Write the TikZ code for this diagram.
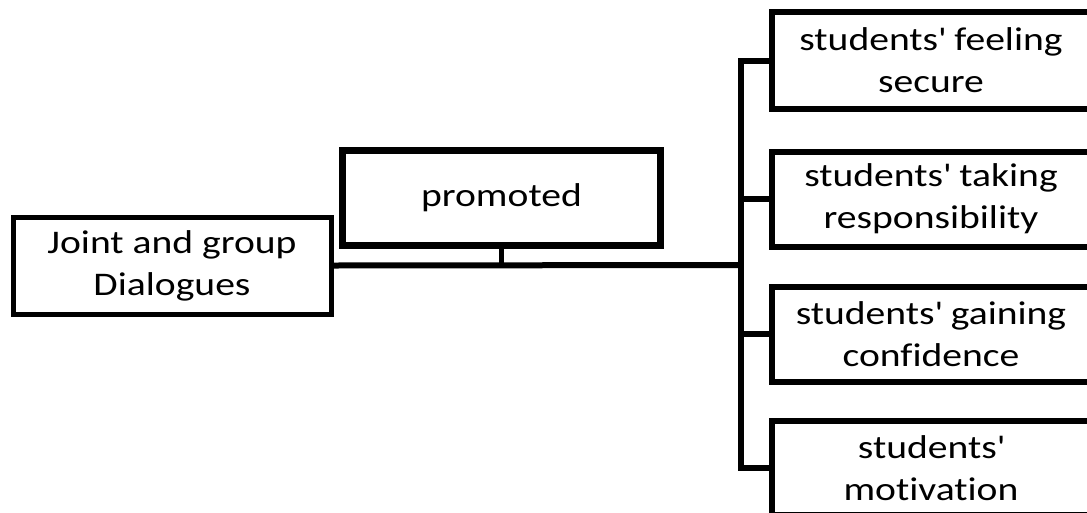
\documentclass[tikz,border=0pt]{standalone}
\usepackage{fontspec}
\setmainfont{Carlito}[FakeStretch=1.2,Ligatures=NoCommon]
\newcommand{\apos}{\textquotesingle}

\begin{document}
\begin{tikzpicture}[x=1pt,y=-1pt,
        box/.style={draw,line width=6pt,minimum width=318pt,minimum height=96pt,inner sep=0pt,
            align=center,font=\fontsize{33}{42}\selectfont},
        link/.style={line width=6pt}]
    \useasboundingbox (0,0) rectangle (1087,512);
    \clip (0,0) rectangle (1087,512);

    \node[box,line width=5pt,minimum height=97pt] (joint) at (172,265.5) {Joint and group\\Dialogues};
    \node[box,line width=7pt,minimum height=95pt] (prom) at (501.5,197.5) {promoted};

    \node[box,minimum height=97pt] (secure) at (931,60.5) {students\apos{} feeling\\secure};
    \node[box,minimum height=95pt] (resp) at (931,199) {students\apos{} taking\\responsibility};
    \node[box,minimum height=95pt] (conf) at (931,334) {students\apos{} gaining\\confidence};
    \node[box,minimum height=94pt] (motiv) at (931,468) {students\apos\\motivation};

    \coordinate (fork) at (741,265);
    \draw[link] (joint.east) -- (fork);
    \draw[link,line width=5pt] (prom.south) -- (prom.south |- fork);
    \draw[link] (secure.west) -- (secure.west -| fork) -- (motiv.west -| fork) -- (motiv.west);
    \draw[link] (resp.west) -- (resp.west -| fork);
    \draw[link] (conf.west) -- (conf.west -| fork);
\end{tikzpicture}
\end{document}
